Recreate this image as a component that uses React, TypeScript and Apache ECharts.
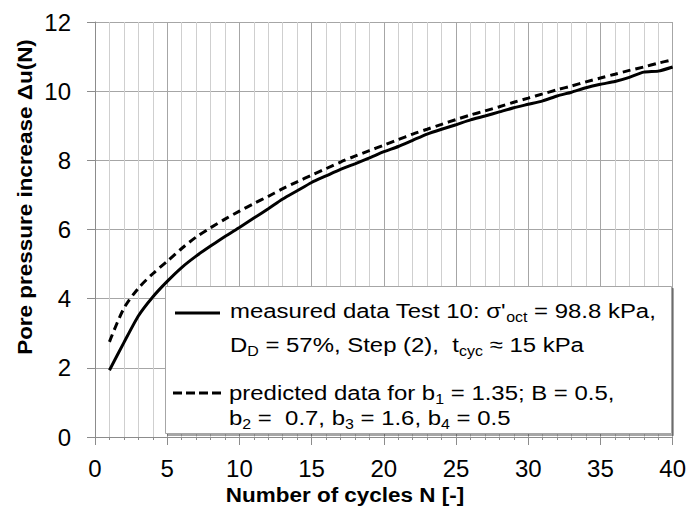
import React, { useEffect, useRef } from "react";
import * as echarts from "echarts";

// Number of load cycles
const cycles = [
  1, 2, 3, 4, 5, 6, 7, 8, 9, 10, 11, 12, 13, 14, 15, 16, 17, 18, 19, 20,
  21, 22, 23, 24, 25, 26, 27, 28, 29, 30, 31, 32, 33, 34, 35, 36, 37, 38, 39, 40,
];

// Measured pore pressure increase Δu(N), Test 10
const measured = [
  1.93, 2.73, 3.5, 4.05, 4.5, 4.9, 5.23, 5.52, 5.8, 6.06,
  6.33, 6.6, 6.88, 7.12, 7.36, 7.55, 7.74, 7.9, 8.07, 8.25,
  8.4, 8.58, 8.76, 8.9, 9.03, 9.17, 9.28, 9.4, 9.52, 9.62,
  9.72, 9.86, 9.97, 10.1, 10.2, 10.28, 10.4, 10.55, 10.58, 10.7,
];

// Predicted pore pressure increase Δu(N)
const predicted = [
  2.75, 3.72, 4.3, 4.72, 5.08, 5.45, 5.78, 6.05, 6.3, 6.53,
  6.75, 6.96, 7.18, 7.38, 7.57, 7.76, 7.95, 8.12, 8.28, 8.44,
  8.6, 8.76, 8.9, 9.04, 9.18, 9.31, 9.43, 9.55, 9.68, 9.8,
  9.92, 10.04, 10.15, 10.27, 10.38, 10.49, 10.6, 10.7, 10.81, 10.91,
];

const xTitle = "Number of cycles N [-]";
const yTitle = "Pore pressure increase \u0394u(N)";

const FONT = '"Liberation Sans", Arial, Helvetica, sans-serif';

const legendLine1 = "{t|measured data Test 10: \u03c3'}{s|oct}{t| = 98.8 kPa,}";
const legendLine2 = "{t|D}{s|D}{t| = 57%, Step (2),  t}{s|cyc}{t| \u2248 15 kPa}";
const legendLine3 = "{t|predicted data for b}{s|1}{t| = 1.35; B = 0.5,}";
const legendLine4 = "{t|b}{s|2}{t| =  0.7, b}{s|3}{t| = 1.6, b}{s|4}{t| = 0.5}";

const richStyles = {
  t: { fontSize: 21, fontFamily: FONT, lineHeight: 25, verticalAlign: "middle", fill: "#000" },
  s: { fontSize: 14, fontFamily: FONT, lineHeight: 12, verticalAlign: "bottom", fill: "#000" },
};

// Legend entries are drawn a little wide, like the spreadsheet font rendering
function legendText(text: string, x: number, y: number) {
  return {
    type: "text",
    x,
    y,
    z: 11,
    scaleX: 1.14,
    style: {
      text,
      rich: richStyles,
      align: "left",
      verticalAlign: "middle",
      fill: "#000",
    },
  };
}

export default function App() {
  const ref = useRef<HTMLDivElement>(null);

  useEffect(() => {
    if (!ref.current) return;
    const chart = echarts.init(ref.current, null, { renderer: "svg" });

    const option = {
      animation: false,
      backgroundColor: "#fff",
      grid: { left: 95, right: 16, top: 22, bottom: 83, containLabel: false },
      xAxis: {
        type: "value",
        min: 0,
        max: 40,
        interval: 5,
        axisLine: { show: true, lineStyle: { color: "#8c8c8c", width: 1 } },
        axisTick: { show: true, length: 8, inside: false, lineStyle: { color: "#8c8c8c" } },
        minorTick: { show: true, splitNumber: 5, length: 3, lineStyle: { color: "#8c8c8c" } },
        axisLabel: { color: "#000", fontSize: 24, fontFamily: FONT, margin: 19 },
        splitLine: { show: true, lineStyle: { color: "#a6a6a6", width: 1 } },
        minorSplitLine: { show: true, lineStyle: { color: "#cfcfcf", width: 1 } },
      },
      yAxis: {
        type: "value",
        min: 0,
        max: 12,
        interval: 2,
        axisLine: { show: true, lineStyle: { color: "#8c8c8c", width: 1 } },
        axisTick: { show: true, length: 8, inside: false, lineStyle: { color: "#8c8c8c" } },
        axisLabel: { color: "#000", fontSize: 24, fontFamily: FONT, margin: 24 },
        splitLine: { show: true, lineStyle: { color: "#a6a6a6", width: 1 } },
      },
      series: [
        {
          name: "measured",
          type: "line",
          data: cycles.map((n, i) => [n, measured[i]]),
          showSymbol: false,
          smooth: 0.2,
          z: 3,
          lineStyle: { color: "#000", width: 3, type: "solid" },
        },
        {
          name: "predicted",
          type: "line",
          data: cycles.map((n, i) => [n, predicted[i]]),
          showSymbol: false,
          smooth: 0.3,
          z: 3,
          lineStyle: { color: "#000", width: 3, type: [8, 5] },
        },
      ],
      graphic: [
        {
          type: "text",
          x: 25,
          y: 197,
          rotation: Math.PI / 2,
          scaleX: 1.07,
          style: {
            text: yTitle,
            font: `bold 21px ${FONT}`,
            align: "center",
            verticalAlign: "middle",
            fill: "#000",
          },
        },
        {
          type: "text",
          x: 345,
          y: 495,
          scaleX: 1.07,
          style: {
            text: xTitle,
            font: `bold 21px ${FONT}`,
            align: "center",
            verticalAlign: "middle",
            fill: "#000",
          },
        },
        {
          type: "rect",
          z: 10,
          shape: { x: 165.5, y: 286.5, width: 506, height: 147 },
          style: {
            fill: "#fff",
            stroke: "#a6a6a6",
            lineWidth: 1,
            shadowColor: "rgba(0,0,0,0.35)",
            shadowOffsetX: 2,
            shadowOffsetY: 2,
            shadowBlur: 1,
          },
        },
        {
          type: "line",
          z: 11,
          shape: { x1: 175, y1: 313, x2: 220, y2: 313 },
          style: { stroke: "#000", lineWidth: 3 },
        },
        {
          type: "line",
          z: 11,
          shape: { x1: 173, y1: 393, x2: 223, y2: 393 },
          style: { stroke: "#000", lineWidth: 3, lineDash: [9, 4] },
        },
        legendText(legendLine1, 230, 311),
        legendText(legendLine2, 230, 345),
        legendText(legendLine3, 229, 393),
        legendText(legendLine4, 229, 418),
      ],
    };

    chart.setOption(option as any);
    return () => chart.dispose();
  }, []);

  return (
    <div
      ref={ref}
      style={{ position: "fixed", left: 0, top: 0, width: 689, height: 520, background: "#fff" }}
    />
  );
}
